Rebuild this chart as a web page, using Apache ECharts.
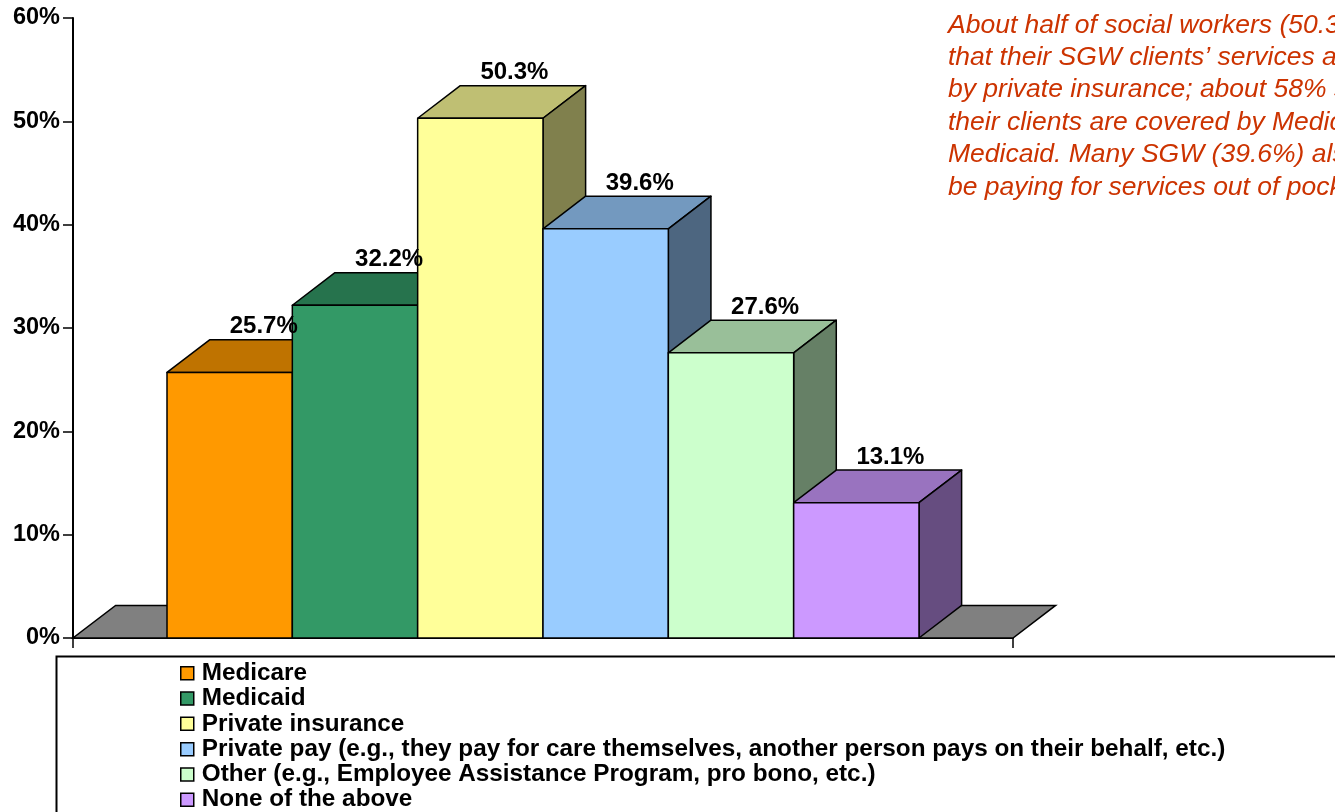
<!DOCTYPE html>
<html>
<head>
<meta charset="utf-8">
<title>SGW client coverage</title>
<script src="https://cdn.jsdelivr.net/npm/echarts@6/dist/echarts.min.js"></script>
<style>
  html, body { margin: 0; padding: 0; background: #ffffff; }
  #chart { width: 1335px; height: 812px; }
</style>
</head>
<body>
<div id="chart"></div>
<script>
// Payment sources reported for SGW clients (percent of social workers)
const seriesNames = [
  'Medicare',
  'Medicaid',
  'Private insurance',
  'Private pay (e.g., they pay for care themselves, another person pays on their behalf, etc.)',
  'Other (e.g., Employee Assistance Program, pro bono, etc.)',
  'None of the above'
];
const seriesValues = [25.7, 32.2, 50.3, 39.6, 27.6, 13.1];
const frontColors = ['#FF9900', '#339966', '#FFFF99', '#99CCFF', '#CCFFCC', '#CC99FF'];
const yTicks = { min: 0, max: 60, interval: 10 };
const noteLines = [
  'About half of social workers (50.3%) report',
  'that their SGW clients\u2019 services are covered',
  'by private insurance; about 58% say that',
  'their clients are covered by Medicare or',
  'Medicaid. Many SGW (39.6%) also seem to',
  'be paying for services out of pocket.'
];

const FONT = 'Arial, "Liberation Sans", sans-serif';
const GAP_RATIO = 1.5;      // gap width between category edge and bars, in bar widths
const DEPTH_RATIO = 0.34;   // 3-D depth (horizontal) relative to bar width
const DEPTH_SLOPE = 0.765;  // vertical/horizontal ratio of the depth offset

function shade(hex, f) {
  const n = parseInt(hex.slice(1), 16);
  const r = Math.round(((n >> 16) & 255) * f);
  const g = Math.round(((n >> 8) & 255) * f);
  const b = Math.round((n & 255) * f);
  return 'rgb(' + r + ',' + g + ',' + b + ')';
}

function barGeometry(api) {
  const bandW = api.size([1, 0])[0];
  const count = seriesNames.length;
  const barW = bandW / (count + GAP_RATIO);
  const dx = barW * DEPTH_RATIO;
  const dy = dx * DEPTH_SLOPE;
  return { bandW, barW, dx, dy };
}

// Grey 3-D floor under the bars
function renderFloor(params, api) {
  const g = barGeometry(api);
  const base = api.coord([0, 0]);
  const xl = base[0] - g.bandW / 2;
  const xr = base[0] + g.bandW / 2;
  const y = base[1];
  return {
    type: 'polygon',
    z2: -10,
    shape: { points: [[xl, y], [xr, y], [xr + g.dx, y - g.dy], [xl + g.dx, y - g.dy]] },
    style: { fill: '#808080', stroke: '#000', lineWidth: 1.5 }
  };
}

function makeBarRenderer(idx) {
  return function (params, api) {
    const g = barGeometry(api);
    const base = api.coord([0, 0]);
    const top = api.coord([0, api.value(1)]);
    const x0 = base[0] - g.bandW / 2 + g.barW * GAP_RATIO / 2 + idx * g.barW;
    const x1 = x0 + g.barW;
    const yb = base[1];
    const yt = top[1];
    const fc = frontColors[idx];
    const line = { stroke: '#000', lineWidth: 1.5, lineJoin: 'round' };
    return {
      type: 'group',
      children: [
        {
          type: 'polygon', z2: idx * 3,
          shape: { points: [[x0, yt], [x1, yt], [x1 + g.dx, yt - g.dy], [x0 + g.dx, yt - g.dy]] },
          style: Object.assign({ fill: shade(fc, 0.75) }, line)
        },
        {
          type: 'polygon', z2: idx * 3 + 1,
          shape: { points: [[x1, yt], [x1 + g.dx, yt - g.dy], [x1 + g.dx, yb - g.dy], [x1, yb]] },
          style: Object.assign({ fill: shade(fc, 0.5) }, line)
        },
        {
          type: 'rect', z2: idx * 3 + 2,
          shape: { x: x0, y: yt, width: g.barW, height: yb - yt },
          style: Object.assign({ fill: fc }, line)
        },
        {
          type: 'text', z2: 100,
          x: (x0 + x1) / 2 + g.dx * 0.8,
          y: yt - g.dy - 13,
          style: {
            text: api.value(1).toFixed(1) + '%',
            fill: '#000',
            font: 'bold 24px ' + FONT,
            align: 'center',
            verticalAlign: 'middle'
          }
        }
      ]
    };
  };
}

const series = [{
  type: 'custom',
  name: 'floor',
  renderItem: renderFloor,
  data: [[0, 0]],
  silent: true
}];
seriesNames.forEach(function (name, i) {
  series.push({
    type: 'custom',
    name: name,
    renderItem: makeBarRenderer(i),
    encode: { x: 0, y: 1 },
    data: [[0, seriesValues[i]]],
    itemStyle: { color: frontColors[i], borderColor: '#000', borderWidth: 1.5 }
  });
});

const chart = echarts.init(document.getElementById('chart'), null, { renderer: 'canvas' });
chart.setOption({
  backgroundColor: '#ffffff',
  animation: false,
  grid: { left: 73, right: 322, top: 18, bottom: 174 },
  xAxis: {
    type: 'category',
    data: [''],
    boundaryGap: true,
    axisLine: { show: true, lineStyle: { color: '#000', width: 2 } },
    axisTick: { show: true, length: 10, lineStyle: { color: '#000', width: 1.5 } },
    axisLabel: { show: false },
    splitLine: { show: false }
  },
  yAxis: {
    type: 'value',
    min: yTicks.min,
    max: yTicks.max,
    interval: yTicks.interval,
    axisLine: { show: true, lineStyle: { color: '#000', width: 2 } },
    axisTick: { show: true, length: 10, lineStyle: { color: '#000', width: 1.5 } },
    axisLabel: {
      formatter: '{value}%',
      color: '#000',
      fontFamily: FONT,
      fontWeight: 'bold',
      fontSize: 23.5,
      margin: 13
    },
    splitLine: { show: false }
  },
  legend: {
    data: seriesNames,
    orient: 'vertical',
    left: 175,
    top: 656,
    height: 300,
    icon: 'rect',
    itemWidth: 13,
    itemHeight: 13,
    itemGap: 0.8,
    textStyle: {
      color: '#000',
      fontFamily: FONT,
      fontWeight: 'bold',
      fontSize: 24.3,
      lineHeight: 24.5,
      padding: [0, 0, 0, 3]
    },
    itemStyle: { borderColor: '#000', borderWidth: 1.5 },
    selectedMode: false
  },
  graphic: [
    {
      type: 'rect',
      left: 54, top: 654,
      shape: { width: 1400, height: 300 },
      style: { fill: 'none', stroke: '#000', lineWidth: 2 },
      silent: true
    },
    {
      type: 'text',
      left: 948, top: 9,
      style: {
        text: noteLines.join('\n'),
        fill: '#cc3300',
        font: 'italic 26.5px ' + FONT,
        lineHeight: 32.4
      },
      silent: true
    }
  ],
  series: series
});
</script>
</body>
</html>
